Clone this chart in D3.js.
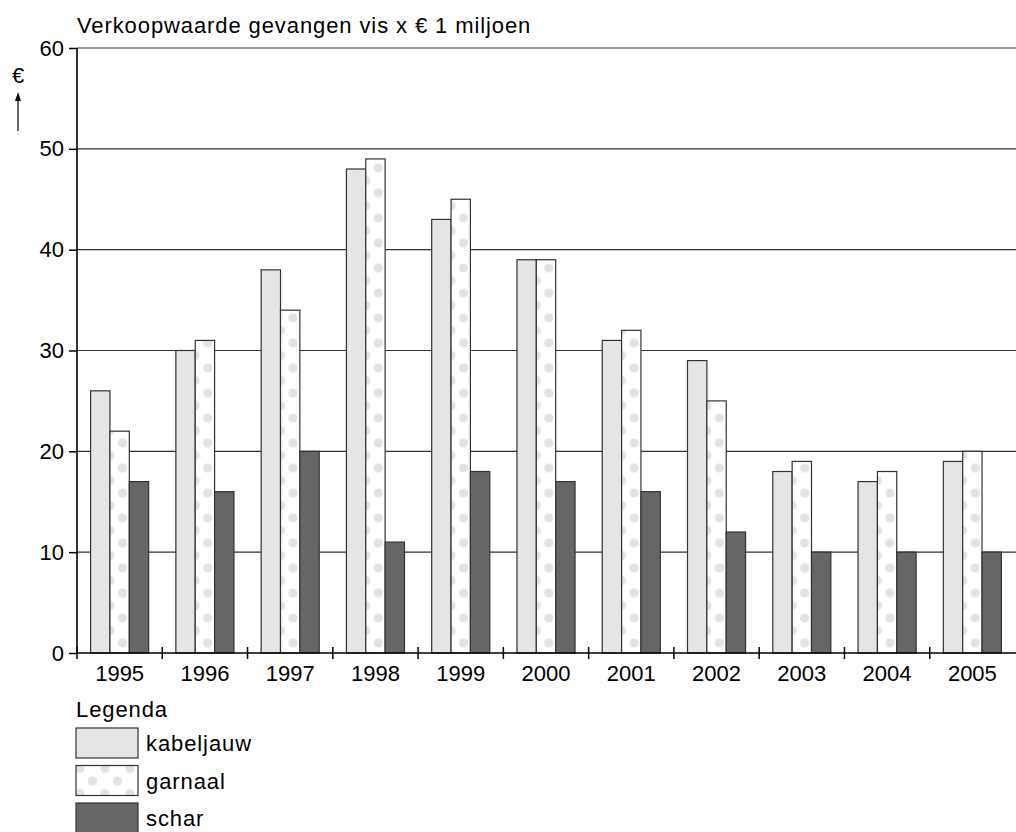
<!DOCTYPE html>
<html>
<head>
<meta charset="utf-8">
<script src="https://cdn.jsdelivr.net/npm/d3@7"></script>
<style>
  body { margin: 0; background: #fff; }
  svg { display: block; font-family: 'Liberation Sans', Arial, sans-serif; }
</style>
</head>
<body>
<div id="chart"></div>
<script>
const years = ['1995', '1996', '1997', '1998', '1999', '2000', '2001', '2002', '2003', '2004', '2005'];
const kabeljauw = [26, 30, 38, 48, 43, 39, 31, 29, 18, 17, 19];
const garnaal = [22, 31, 34, 49, 45, 39, 32, 25, 19, 18, 20];
const schar = [17, 16, 20, 11, 18, 17, 16, 12, 10, 10, 10];
const seriesNames = ['kabeljauw', 'garnaal', 'schar'];
const yTicks = [0, 10, 20, 30, 40, 50, 60];

const width = 1016, height = 832;
const plotLeft = 77, plotRight = 1015, plotTop = 48, plotBottom = 653;

const FILLS = {
  kabeljauw: '#e5e5e5',
  garnaal: 'url(#dots)',
  schar: '#666666',
};
const LEGEND_FILLS = {
  kabeljauw: '#e5e5e5',
  garnaal: 'url(#dotsLegend)',
  schar: '#666666',
};

const svg = d3.select('#chart')
  .append('svg')
  .attr('width', width)
  .attr('height', height);

const defs = svg.append('defs');

// dotted fill for garnaal (user space of each bar, so every bar gets the same phase)
function addDots(id, ox, oy) {
  const p = defs.append('pattern')
    .attr('id', id)
    .attr('patternUnits', 'userSpaceOnUse')
    .attr('width', 25)
    .attr('height', 25)
    .attr('x', ox)
    .attr('y', oy);
  p.append('rect').attr('width', 25).attr('height', 25).attr('fill', '#fff');
  [[0, 0], [25, 0], [0, 25], [25, 25], [12.5, 12.5]].forEach(([cx, cy]) => {
    p.append('circle').attr('cx', cx).attr('cy', cy).attr('r', 4.6).attr('fill', '#e2e2e2');
  });
}
addDots('dots', 0, 5.5);
addDots('dotsLegend', 4, 3);

const x = d3.scaleBand().domain(years).range([plotLeft, plotRight]);
const x1 = d3.scaleBand()
  .domain(seriesNames)
  .range([13.6, x.bandwidth() - 13.6]);
const y = d3.scaleLinear().domain([0, 60]).range([plotBottom, plotTop]);

const data = years.map((yr, i) => ({
  year: yr,
  values: [
    { key: 'kabeljauw', value: kabeljauw[i] },
    { key: 'garnaal', value: garnaal[i] },
    { key: 'schar', value: schar[i] },
  ],
}));

// gridlines
svg.append('g')
  .selectAll('line')
  .data(yTicks.filter(d => d > 0))
  .join('line')
  .attr('x1', plotLeft)
  .attr('x2', width)
  .attr('y1', d => y(d))
  .attr('y2', d => y(d))
  .attr('stroke', '#333')
  .attr('stroke-width', 1.2);

// bars
svg.append('g')
  .selectAll('g')
  .data(data)
  .join('g')
  .attr('transform', d => `translate(${x(d.year)},0)`)
  .selectAll('rect')
  .data(d => d.values)
  .join('rect')
  .attr('transform', d => `translate(${x1(d.key)},0)`)
  .attr('x', 0)
  .attr('width', x1.bandwidth())
  .attr('y', d => y(d.value))
  .attr('height', d => y(0) - y(d.value))
  .attr('fill', d => FILLS[d.key])
  .attr('stroke', '#333')
  .attr('stroke-width', 1.2);

// y axis
const yAxis = svg.append('g')
  .attr('transform', `translate(${plotLeft},0)`)
  .call(d3.axisLeft(y).tickValues(yTicks).tickSize(8).tickPadding(5));
yAxis.select('.domain').remove();
yAxis.selectAll('line').attr('stroke', '#000').attr('stroke-width', 1.5);
yAxis.selectAll('text')
  .attr('font-size', 22)
  .attr('font-family', "'Liberation Sans', Arial, sans-serif")
  .attr('fill', '#000');

// axis lines
svg.append('line')
  .attr('x1', plotLeft).attr('x2', plotLeft)
  .attr('y1', y(60)).attr('y2', plotBottom)
  .attr('stroke', '#000').attr('stroke-width', 1.6);
svg.append('line')
  .attr('x1', plotLeft).attr('x2', width)
  .attr('y1', plotBottom).attr('y2', plotBottom)
  .attr('stroke', '#000').attr('stroke-width', 1.6);

// category boundary ticks
svg.append('g')
  .selectAll('line')
  .data(years)
  .join('line')
  .attr('x1', d => x(d))
  .attr('x2', d => x(d))
  .attr('y1', plotBottom - 6)
  .attr('y2', plotBottom + 6)
  .attr('stroke', '#000')
  .attr('stroke-width', 1.5);

// x labels
const xAxis = svg.append('g')
  .attr('transform', `translate(0,${plotBottom})`)
  .call(d3.axisBottom(x).tickSize(0).tickPadding(12));
xAxis.select('.domain').remove();
xAxis.selectAll('text')
  .attr('font-size', 22)
  .attr('font-family', "'Liberation Sans', Arial, sans-serif")
  .attr('fill', '#000');

// title
svg.append('text')
  .attr('x', plotLeft)
  .attr('y', 33)
  .attr('font-size', 22)
  .attr('letter-spacing', '0.9px')
  .attr('fill', '#000')
  .text('Verkoopwaarde gevangen vis x € 1 miljoen');

// y unit label with arrow
svg.append('text')
  .attr('x', 18)
  .attr('y', 83)
  .attr('text-anchor', 'middle')
  .attr('font-size', 22)
  .text('€');
svg.append('line')
  .attr('x1', 18).attr('x2', 18)
  .attr('y1', 131).attr('y2', 97)
  .attr('stroke', '#000').attr('stroke-width', 1.2);
svg.append('path')
  .attr('d', 'M18,92 L15,101 L21,101 Z')
  .attr('fill', '#000');

// legend
svg.append('text')
  .attr('x', 76)
  .attr('y', 717)
  .attr('font-size', 22)
  .attr('letter-spacing', '0.9px')
  .text('Legenda');

const legend = svg.append('g')
  .selectAll('g')
  .data(seriesNames)
  .join('g')
  .attr('transform', (d, i) => `translate(76,${728 + i * 37.5})`);
legend.append('rect')
  .attr('width', 62)
  .attr('height', 30)
  .attr('fill', d => LEGEND_FILLS[d])
  .attr('stroke', '#333')
  .attr('stroke-width', 1.2);
legend.append('text')
  .attr('x', 70)
  .attr('y', 23)
  .attr('font-size', 22)
  .attr('letter-spacing', '0.9px')
  .text(d => d);
</script>
</body>
</html>
